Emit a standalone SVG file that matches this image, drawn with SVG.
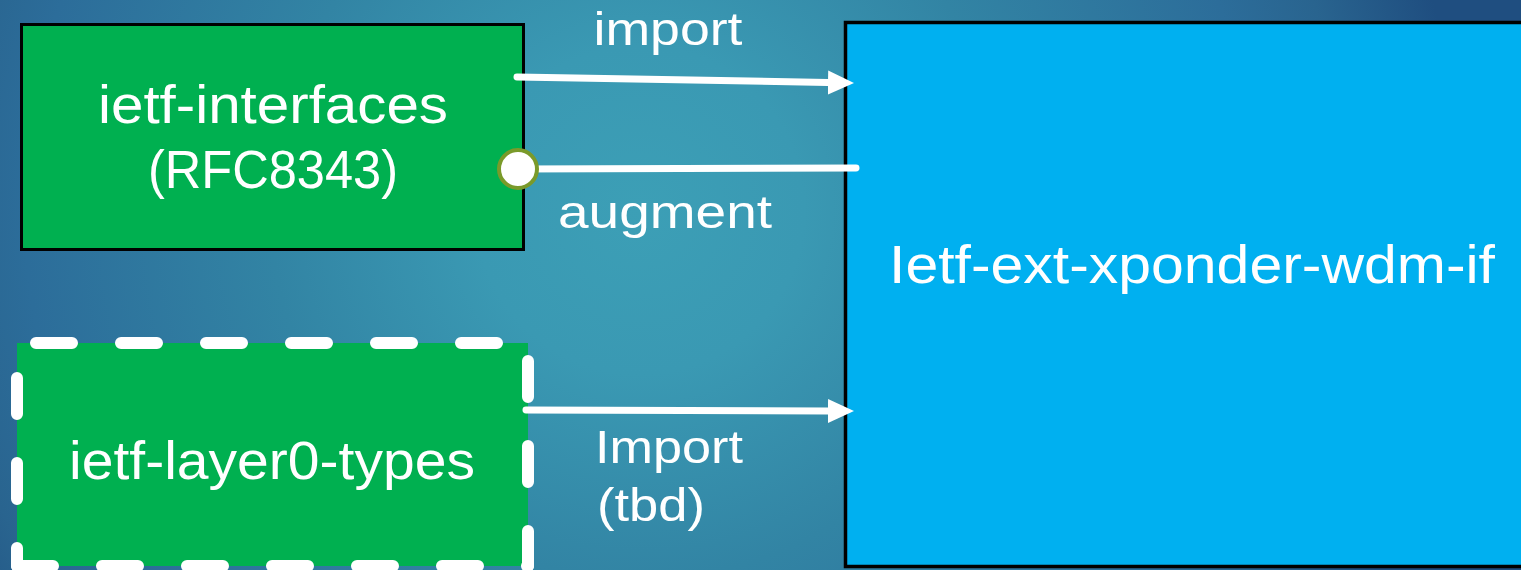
<svg xmlns="http://www.w3.org/2000/svg" width="1521" height="570" viewBox="0 0 1521 570">
  <defs>
    <radialGradient id="bg" gradientUnits="userSpaceOnUse" cx="640" cy="210" r="820">
      <stop offset="0" stop-color="#3c9fb6"/>
      <stop offset="0.2" stop-color="#3a99b3"/>
      <stop offset="0.45" stop-color="#3284a4"/>
      <stop offset="0.75" stop-color="#2c6d9a"/>
      <stop offset="0.86" stop-color="#29648f"/>
      <stop offset="1" stop-color="#1f4e80"/>
    </radialGradient>
    <marker id="arrow" markerUnits="userSpaceOnUse" markerWidth="28" markerHeight="28" refX="0" refY="0" viewBox="0 -14 28 28" orient="auto">
      <path d="M0,-12 L26,0 L0,12 Z" fill="#ffffff"/>
    </marker>
  </defs>
  <style>
    .label { font-family: "Liberation Sans", Arial, sans-serif; fill: #ffffff; }
    .box-text { font-size: 54px; }
    .edge-text { font-size: 46px; }
    .link { stroke: #ffffff; stroke-width: 7; fill: none; stroke-linecap: round; }
    .dash { stroke: #ffffff; stroke-width: 12; fill: none; stroke-linecap: round; stroke-dasharray: 36 49; }
  </style>

  <!-- background -->
  <rect x="0" y="0" width="1521" height="570" fill="url(#bg)"/>

  <!-- ietf-interfaces module -->
  <g id="ietf-interfaces">
    <rect x="21.5" y="24.5" width="502" height="225" fill="#00b050" stroke="#000000" stroke-width="3"/>
    <text class="label box-text" x="273" y="123" text-anchor="middle" textLength="350" lengthAdjust="spacingAndGlyphs">ietf-interfaces</text>
    <text class="label box-text" x="273" y="188" text-anchor="middle" textLength="250" lengthAdjust="spacingAndGlyphs">(RFC8343)</text>
  </g>

  <!-- ietf-layer0-types module (dashed outline) -->
  <g id="ietf-layer0-types">
    <rect x="17" y="343" width="511" height="223" fill="#00b050"/>
    <line class="dash" x1="17" y1="343" x2="528" y2="343" stroke-dashoffset="66"/>
    <line class="dash" x1="528" y1="343" x2="528" y2="566" stroke-dashoffset="67"/>
    <line class="dash" x1="17" y1="343" x2="17" y2="566" stroke-dashoffset="50"/>
    <line class="dash" x1="17" y1="566" x2="528" y2="566" stroke-dashoffset="0"/>
    <text class="label box-text" x="272" y="479" text-anchor="middle" textLength="406" lengthAdjust="spacingAndGlyphs">ietf-layer0-types</text>
  </g>

  <!-- ietf-ext-xponder-wdm-if module -->
  <g id="ietf-ext-xponder-wdm-if">
    <rect x="845.5" y="22.5" width="700" height="544" fill="#00b0f0" stroke="#000000" stroke-width="3.5"/>
    <text class="label box-text" x="1192" y="283" text-anchor="middle" textLength="606" lengthAdjust="spacingAndGlyphs">Ietf-ext-xponder-wdm-if</text>
  </g>

  <!-- connectors -->
  <g id="connectors">
    <line class="link" x1="517" y1="77" x2="828" y2="82.5" marker-end="url(#arrow)"/>
    <line class="link" x1="518" y1="169" x2="856" y2="168"/>
    <circle cx="518" cy="169" r="19" fill="#ffffff" stroke="#7a9a2a" stroke-width="4"/>
    <line class="link" x1="526" y1="410" x2="828" y2="411" marker-end="url(#arrow)"/>
    <text class="label edge-text" x="668" y="45" text-anchor="middle" textLength="149" lengthAdjust="spacingAndGlyphs">import</text>
    <text class="label edge-text" x="665" y="228" text-anchor="middle" textLength="214" lengthAdjust="spacingAndGlyphs">augment</text>
    <text class="label edge-text" x="595" y="463" textLength="148" lengthAdjust="spacingAndGlyphs">Import</text>
    <text class="label edge-text" x="597" y="521" textLength="108" lengthAdjust="spacingAndGlyphs">(tbd)</text>
  </g>
</svg>
